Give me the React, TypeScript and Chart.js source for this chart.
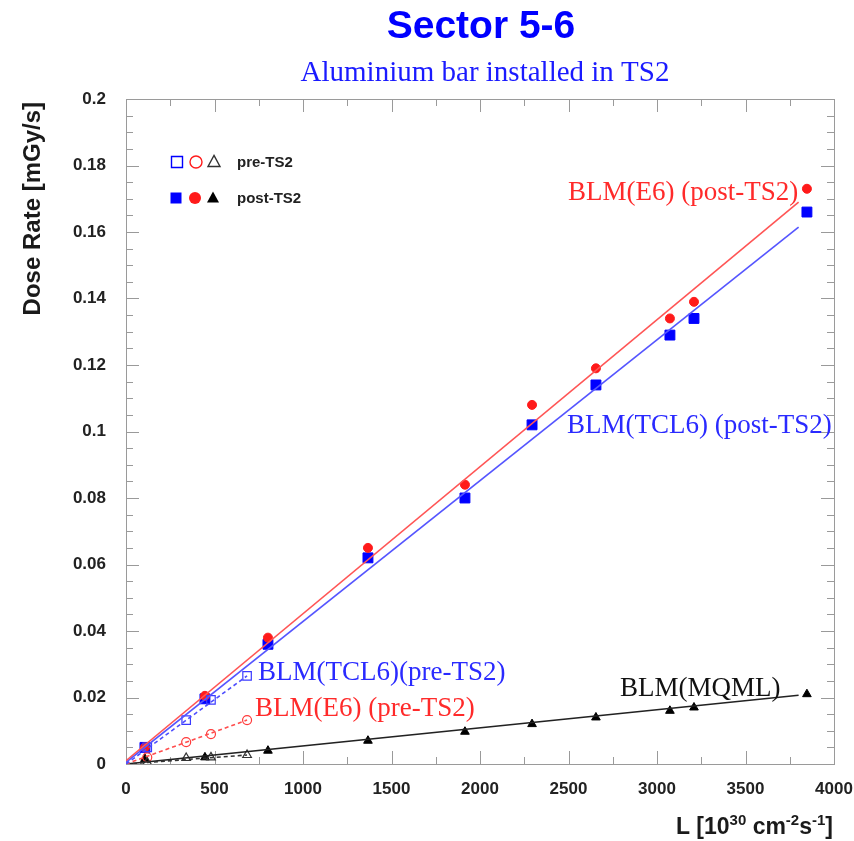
import React, { useEffect, useRef } from 'react';
import { Chart, registerables } from 'chart.js';

Chart.register(...registerables);

// Luminosity L [10^30 cm^-2 s^-1] of the post-TS2 fills and the BLM dose rates [mGy/s]
const postLumi = [107, 446, 802, 1367, 1915, 2294, 2655, 3073, 3209, 3847];
const postTCL6 = [0.005, 0.0196, 0.036, 0.062, 0.08, 0.102, 0.114, 0.129, 0.134, 0.166];
const postE6 = [0.005, 0.0205, 0.038, 0.065, 0.084, 0.108, 0.119, 0.134, 0.139, 0.173];
const postMQML = [0.0015, 0.002, 0.004, 0.007, 0.0097, 0.012, 0.014, 0.016, 0.017, 0.021];

// Pre-TS2 fills
const preLumi = [120, 340, 480, 684];
const preTCL6 = [0.005, 0.0132, 0.0193, 0.0265];
const preE6 = [0.002, 0.0066, 0.009, 0.0132];
const preMQML = [0.0005, 0.0018, 0.002, 0.0027];

// Linear fit end points
const fitPostLumi = [0, 3800];
const fitPostE6 = [0.001, 0.169];
const fitPostTCL6 = [0.0005, 0.1615];
const fitPostMQML = [0, 0.0207];
const fitPreLumi = [0, 684];
const fitPreTCL6 = [0, 0.0265];
const fitPreE6 = [0, 0.0132];
const fitPreMQML = [0, 0.0027];

// Axis ticks
const xMajor = [0, 500, 1000, 1500, 2000, 2500, 3000, 3500, 4000];
const yMajor = [0, 0.02, 0.04, 0.06, 0.08, 0.1, 0.12, 0.14, 0.16, 0.18, 0.2];
const xMinorStep = 250;
const yMinorStep = 0.005;

const BLUE = '#0000ff';
const RED = '#ff1a1a';
const BLACK = '#000000';
const SANS = '"Liberation Sans", Arial, Helvetica, sans-serif';
const SERIF = '"Liberation Serif", "Times New Roman", serif';

const pts = (xs: number[], ys: number[]) => xs.map((x, i) => ({ x, y: ys[i] }));

const fitLine = (xs: number[], ys: number[], color: string, dash: number[] = []) => ({
  data: pts(xs, ys),
  showLine: true,
  borderColor: color,
  borderWidth: 1.6,
  borderDash: dash,
  pointRadius: 0,
  pointHoverRadius: 0,
  fill: false,
});

const markers = (xs: number[], ys: number[], color: string, style: string, r: number, filled: boolean) => ({
  data: pts(xs, ys),
  showLine: false,
  pointStyle: style,
  pointRadius: r,
  pointBorderWidth: filled ? 1 : 1.2,
  pointBorderColor: color,
  pointBackgroundColor: filled ? color : 'rgba(0,0,0,0)',
  borderColor: color,
  backgroundColor: filled ? color : 'rgba(0,0,0,0)',
});

function drawMarker(ctx: CanvasRenderingContext2D, kind: string, x: number, y: number, s: number, color: string, filled: boolean) {
  ctx.beginPath();
  if (kind === 'rect') {
    ctx.rect(x - s, y - s, 2 * s, 2 * s);
  } else if (kind === 'circle') {
    ctx.arc(x, y, s, 0, Math.PI * 2);
  } else {
    ctx.moveTo(x, y - s * 1.1);
    ctx.lineTo(x + s, y + s * 0.75);
    ctx.lineTo(x - s, y + s * 0.75);
    ctx.closePath();
  }
  if (filled) {
    ctx.fillStyle = color;
    ctx.fill();
  } else {
    ctx.strokeStyle = color;
    ctx.lineWidth = 1.4;
    ctx.stroke();
  }
}

const framePlugin = {
  id: 'frame',
  beforeDatasetsDraw(chart: any) {
    const { ctx, chartArea: a, scales } = chart;
    const x = scales.x;
    const y = scales.y;
    ctx.save();
    ctx.strokeStyle = '#9a9a9a';
    ctx.lineWidth = 1;
    ctx.strokeRect(a.left + 0.5, a.top + 0.5, a.right - a.left, a.bottom - a.top);
    ctx.beginPath();
    const xMax = xMajor[xMajor.length - 1];
    for (let i = 0; i * xMinorStep <= xMax; i++) {
      const v = i * xMinorStep;
      const px = Math.round(x.getPixelForValue(v)) + 0.5;
      const len = v % 500 === 0 ? 13 : 7;
      ctx.moveTo(px, a.bottom);
      ctx.lineTo(px, a.bottom - len);
      ctx.moveTo(px, a.top);
      ctx.lineTo(px, a.top + len);
    }
    const yMax = yMajor[yMajor.length - 1];
    for (let i = 0; i * yMinorStep <= yMax + 1e-9; i++) {
      const v = i * yMinorStep;
      const py = Math.round(y.getPixelForValue(v)) + 0.5;
      const len = i % 4 === 0 ? 13 : 7;
      ctx.moveTo(a.left, py);
      ctx.lineTo(a.left + len, py);
      ctx.moveTo(a.right, py);
      ctx.lineTo(a.right - len, py);
    }
    ctx.stroke();
    ctx.restore();
  },
  afterDraw(chart: any) {
    const { ctx } = chart;
    ctx.save();

    // Titles
    ctx.textAlign = 'center';
    ctx.textBaseline = 'middle';
    ctx.fillStyle = BLUE;
    ctx.font = `bold 39px ${SANS}`;
    ctx.fillText('Sector 5-6', 481, 27);
    ctx.font = `29px ${SERIF}`;
    ctx.fillStyle = '#1a1aff';
    ctx.fillText('Aluminium bar installed in TS2', 485, 73);

    // Y axis title
    ctx.save();
    ctx.translate(33, 102);
    ctx.rotate(-Math.PI / 2);
    ctx.textAlign = 'right';
    ctx.textBaseline = 'middle';
    ctx.fillStyle = '#1a1a1a';
    ctx.font = `bold 24px ${SANS}`;
    ctx.fillText('Dose Rate [mGy/s]', 0, 0);
    ctx.restore();

    // X axis title with superscripts
    const parts: [string, boolean][] = [
      ['L [10', false], ['30', true], [' cm', false], ['-2', true], ['s', false], ['-1', true], [']', false],
    ];
    const big = `bold 23px ${SANS}`;
    const small = `bold 15px ${SANS}`;
    let total = 0;
    for (const [t, sup] of parts) {
      ctx.font = sup ? small : big;
      total += ctx.measureText(t).width;
    }
    let cx = 833 - total;
    ctx.textAlign = 'left';
    ctx.textBaseline = 'alphabetic';
    ctx.fillStyle = '#1a1a1a';
    for (const [t, sup] of parts) {
      ctx.font = sup ? small : big;
      ctx.fillText(t, cx, sup ? 825 : 834);
      cx += ctx.measureText(t).width;
    }

    // Legend
    ctx.textBaseline = 'middle';
    drawMarker(ctx, 'rect', 177, 162, 5.5, BLUE, false);
    drawMarker(ctx, 'circle', 196, 162, 6, RED, false);
    drawMarker(ctx, 'tri', 214, 162, 6, '#333', false);
    drawMarker(ctx, 'rect', 176, 198, 5.5, BLUE, true);
    drawMarker(ctx, 'circle', 195, 198, 6, RED, true);
    drawMarker(ctx, 'tri', 213, 198, 6, BLACK, true);
    ctx.fillStyle = '#222';
    ctx.font = `bold 15px ${SANS}`;
    ctx.fillText('pre-TS2', 237, 163);
    ctx.fillText('post-TS2', 237, 199);

    // Series labels
    ctx.font = `27px ${SERIF}`;
    ctx.fillStyle = '#ff2a2a';
    ctx.fillText('BLM(E6) (post-TS2)', 568, 193);
    ctx.fillText('BLM(E6) (pre-TS2)', 255, 709);
    ctx.fillStyle = '#2a2aff';
    ctx.fillText('BLM(TCL6) (post-TS2)', 567, 426);
    ctx.fillText('BLM(TCL6)(pre-TS2)', 258, 673);
    ctx.fillStyle = '#111';
    ctx.fillText('BLM(MQML)', 620, 689);

    ctx.restore();
  },
};

export default function App() {
  const ref = useRef<HTMLCanvasElement>(null);

  useEffect(() => {
    if (!ref.current) return;
    const chart = new Chart(ref.current, {
      type: 'scatter',
      data: {
        datasets: [
          fitLine(fitPreLumi, fitPreTCL6, '#4d4dff', [4, 3]),
          fitLine(fitPreLumi, fitPreE6, '#ff4d4d', [4, 3]),
          fitLine(fitPreLumi, fitPreMQML, '#333', [4, 3]),
          fitLine(fitPostLumi, fitPostE6, '#ff5555'),
          fitLine(fitPostLumi, fitPostTCL6, '#5555ff'),
          fitLine(fitPostLumi, fitPostMQML, '#222'),
          markers(preLumi, preTCL6, '#3a3aff', 'rect', 6, false),
          markers(preLumi, preE6, '#ff3a3a', 'circle', 4.5, false),
          markers(preLumi, preMQML, '#333', 'triangle', 5, false),
          markers(postLumi, postE6, RED, 'circle', 4.5, true),
          markers(postLumi, postTCL6, BLUE, 'rect', 7, true),
          markers(postLumi, postMQML, BLACK, 'triangle', 5, true),
        ] as any,
      },
      options: {
        animation: false,
        responsive: false,
        events: [],
        layout: { padding: { top: 99, right: 20, left: 0, bottom: 0 } },
        plugins: {
          legend: { display: false },
          title: { display: false },
          tooltip: { enabled: false },
        },
        scales: {
          x: {
            type: 'linear',
            min: 0,
            max: 4000,
            grid: { display: false },
            border: { display: false },
            afterBuildTicks: (axis: any) => {
              axis.ticks = xMajor.map((v) => ({ value: v }));
            },
            afterFit: (s: any) => {
              s.height = 77;
              s.paddingLeft = 0;
              s.paddingRight = 0;
            },
            ticks: {
              padding: 7,
              maxRotation: 0,
              autoSkip: false,
              color: '#222',
              font: { family: SANS, size: 17, weight: 'bold' },
              callback: (v: any) => String(v),
            },
          },
          y: {
            type: 'linear',
            min: 0,
            max: 0.2,
            grid: { display: false },
            border: { display: false },
            afterBuildTicks: (axis: any) => {
              axis.ticks = yMajor.map((v) => ({ value: v }));
            },
            afterFit: (s: any) => {
              s.width = 126;
              s.paddingTop = 0;
              s.paddingBottom = 0;
            },
            ticks: {
              padding: 12,
              autoSkip: false,
              color: '#222',
              font: { family: SANS, size: 17, weight: 'bold' },
              callback: (v: any) => String(v),
            },
          },
        },
      } as any,
      plugins: [framePlugin],
    });
    return () => chart.destroy();
  }, []);

  return (
    <div style={{ position: 'absolute', left: 0, top: 0, width: 854, height: 841, background: '#fff' }}>
      <canvas ref={ref} width={854} height={841} style={{ display: 'block' }} />
    </div>
  );
}
